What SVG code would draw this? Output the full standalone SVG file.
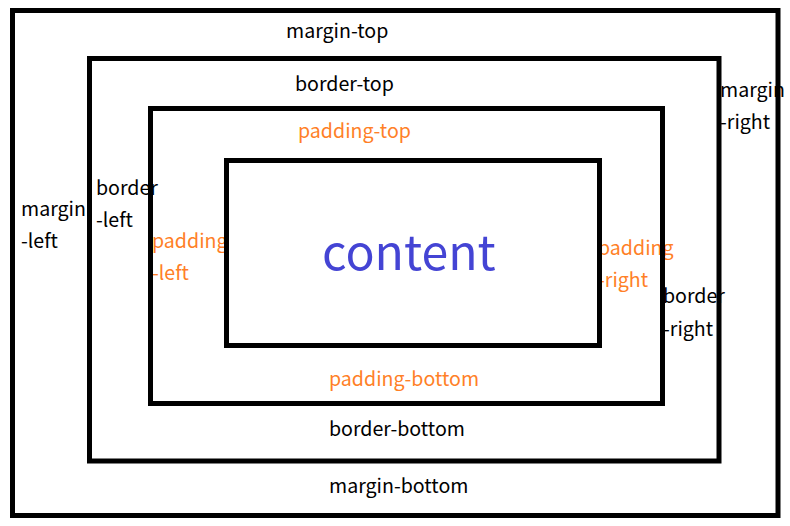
<svg xmlns="http://www.w3.org/2000/svg" width="790" height="526" viewBox="0 0 790 526">
<style>
.t{font-family:"Noto Sans CJK SC","Noto Sans",sans-serif;font-size:19.6px;fill:#000}
.o{fill:#ff7f27}
.box{fill:none;stroke:#000;stroke-width:5}
.c{font-family:"Noto Sans CJK SC","Noto Sans",sans-serif;font-size:48.2px;fill:#4444d4}
</style>
<rect width="790" height="526" fill="#fff"/>
<g id="labels">
<text class="t" x="286" y="38">margin-top</text>
<text class="t" x="295" y="91">border-top</text>
<text class="t o" x="298" y="138">padding-top</text>
<text class="t" x="720" y="97">margin</text>
<text class="t" x="720" y="129">-right</text>
<text class="t" x="21" y="216">margin</text>
<text class="t" x="21" y="248">-left</text>
<text class="t" x="96" y="195">border</text>
<text class="t" x="96" y="227">-left</text>
<text class="t o" x="152" y="248">padding</text>
<text class="t o" x="152" y="280">-left</text>
<text class="t o" x="598" y="255">padding</text>
<text class="t o" x="598" y="287">-right</text>
<text class="t" x="663" y="303">border</text>
<text class="t" x="663" y="336">-right</text>
<text class="t o" x="329" y="386">padding-bottom</text>
<text class="t" x="329" y="436">border-bottom</text>
<text class="t" x="329" y="493">margin-bottom</text>
</g>
<g id="margin"><rect class="box" x="12.5" y="10.5" width="765.5" height="505"/></g>
<g id="border"><rect class="box" x="89.5" y="58.5" width="629.5" height="402.5"/></g>
<g id="padding"><rect class="box" x="150.5" y="108.5" width="512" height="295"/></g>
<g id="content"><rect class="box" x="226.5" y="160.5" width="373" height="185"/>
<text class="c" x="322" y="270">content</text></g>
</svg>
